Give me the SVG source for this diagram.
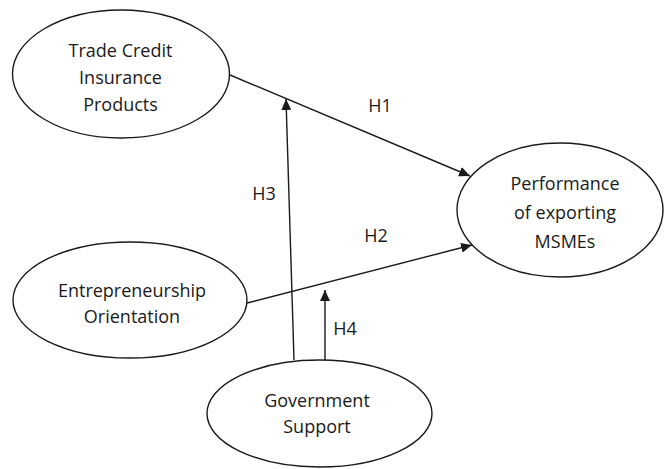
<svg xmlns="http://www.w3.org/2000/svg" width="664" height="469" viewBox="0 0 664 469">
  <defs>
    <marker id="arrow" markerUnits="userSpaceOnUse" markerWidth="11" markerHeight="10" refX="11" refY="5" orient="auto">
      <path d="M0,0 L11,5 L0,10 z" fill="#1a1a1a"/>
    </marker>
    <style>
      .node ellipse { fill: #ffffff; stroke: #1a1a1a; stroke-width: 1.4; }
      .node text, .label { font-family: "Open Sans", "Liberation Sans", sans-serif; font-size: 18px; fill: #1a1a1a; text-anchor: middle; }
      .edge { stroke: #1a1a1a; stroke-width: 1.4; fill: none; marker-end: url(#arrow); }
    </style>
  </defs>
  <rect width="664" height="469" fill="#ffffff"/>

  <!-- connectors -->
  <g id="connectors">
    <line class="edge" x1="230" y1="75" x2="470" y2="176"/>
    <line class="edge" x1="247" y1="303" x2="472" y2="245"/>
    <line class="edge" x1="294" y1="360" x2="286" y2="99"/>
    <line class="edge" x1="325" y1="360" x2="325" y2="290"/>
    <text class="label" x="380" y="112">H1</text>
    <text class="label" x="376" y="242">H2</text>
    <text class="label" x="264" y="200">H3</text>
    <text class="label" x="345" y="335">H4</text>
  </g>

  <g id="trade-credit" class="node">
    <ellipse cx="121" cy="74" rx="108.5" ry="64"/>
    <text x="120.5" y="56.5">Trade Credit</text>
    <text x="120.5" y="84">Insurance</text>
    <text x="120.5" y="111">Products</text>
  </g>

  <g id="entrepreneurship" class="node">
    <ellipse cx="130" cy="300" rx="117" ry="58"/>
    <text x="132" y="297">Entrepreneurship</text>
    <text x="132" y="323">Orientation</text>
  </g>

  <g id="performance" class="node">
    <ellipse cx="560" cy="210" rx="103" ry="67"/>
    <text x="565" y="190">Performance</text>
    <text x="565" y="219">of exporting</text>
    <text x="565" y="248">MSMEs</text>
  </g>

  <g id="government" class="node">
    <ellipse cx="319.5" cy="413.5" rx="112.5" ry="53.5"/>
    <text x="317" y="407">Government</text>
    <text x="317" y="433">Support</text>
  </g>
</svg>
